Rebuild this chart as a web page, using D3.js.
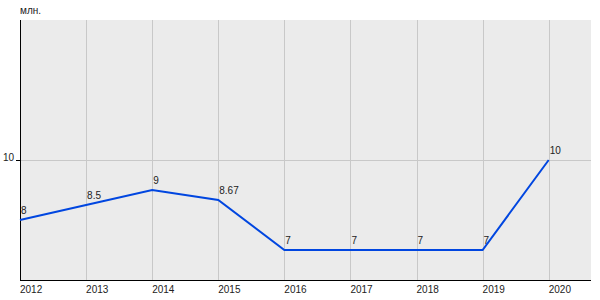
<!DOCTYPE html>
<html>
<head>
<meta charset="utf-8">
<script src="https://cdn.jsdelivr.net/npm/d3@7"></script>
<style>
  html, body { margin: 0; padding: 0; background: #fff; }
  svg { display: block; font-family: "Liberation Sans", Arial, sans-serif; }
  .lbl { font-size: 10px; fill: #222; }
</style>
</head>
<body>
<div id="chart"></div>
<script>
'use strict';

// data
const years  = [2012, 2013, 2014, 2015, 2016, 2017, 2018, 2019, 2020];
const values = [8, 8.5, 9, 8.67, 7, 7, 7, 7, 10];
const labels = ['8', '8.5', '9', '8.67', '7', '7', '7', '7', '10'];
const yTicks = [10];
const unit   = 'млн.';

const W = 600, H = 300;
const PLOT = { left: 20, right: 591, top: 20, bottom: 280 };

const svg = d3.select('#chart').append('svg')
  .attr('width', W).attr('height', H);

const x = d3.scaleLinear()
  .domain([2012, 2020.64])
  .range([PLOT.left, PLOT.right]);

const y = d3.scaleLinear()
  .domain([6, 14.667])
  .range([PLOT.bottom, PLOT.top]);

// background
svg.append('rect')
  .attr('x', PLOT.left).attr('y', PLOT.top)
  .attr('width', PLOT.right - PLOT.left)
  .attr('height', PLOT.bottom - PLOT.top)
  .attr('fill', '#ebebeb');

// vertical grid
svg.append('g').selectAll('line')
  .data(years.slice(1))
  .enter().append('line')
  .attr('x1', d => Math.round(x(d)) + 0.5).attr('x2', d => Math.round(x(d)) + 0.5)
  .attr('y1', PLOT.top).attr('y2', PLOT.bottom)
  .attr('stroke', '#c8c8c8');

// horizontal grid
svg.append('g').selectAll('line')
  .data(yTicks)
  .enter().append('line')
  .attr('x1', PLOT.left - 4).attr('x2', PLOT.right)
  .attr('y1', d => Math.round(y(d)) + 0.5).attr('y2', d => Math.round(y(d)) + 0.5)
  .attr('stroke', '#c8c8c8');

// tick mark at y ticks
svg.append('g').selectAll('line')
  .data(yTicks)
  .enter().append('line')
  .attr('x1', PLOT.left - 4).attr('x2', PLOT.left)
  .attr('y1', d => Math.round(y(d)) + 0.5).attr('y2', d => Math.round(y(d)) + 0.5)
  .attr('stroke', '#000');

svg.append('g').selectAll('text')
  .data(yTicks)
  .enter().append('text')
  .attr('class', 'lbl')
  .attr('x', PLOT.left - 6).attr('y', d => y(d) + 1)
  .attr('text-anchor', 'end')
  .text(d => d);

// axes lines
svg.append('line')
  .attr('x1', PLOT.left + 0.5).attr('x2', PLOT.left + 0.5)
  .attr('y1', PLOT.top).attr('y2', PLOT.bottom + 1)
  .attr('stroke', '#000');
svg.append('line')
  .attr('x1', PLOT.left).attr('x2', PLOT.right)
  .attr('y1', PLOT.bottom + 0.5).attr('y2', PLOT.bottom + 0.5)
  .attr('stroke', '#000');

// year labels
svg.append('g').selectAll('text')
  .data(years)
  .enter().append('text')
  .attr('class', 'lbl')
  .attr('x', d => x(d)).attr('y', PLOT.bottom + 13)
  .text(d => d);

// unit label
svg.append('text')
  .attr('class', 'lbl')
  .attr('x', PLOT.left).attr('y', 14)
  .text(unit);

// line
const pts = years.map((yr, i) => [x(yr), y(values[i])]);
svg.append('path')
  .datum(pts)
  .attr('d', d3.line())
  .attr('fill', 'none')
  .attr('stroke', '#0046e0')
  .attr('stroke-width', 2);

// value labels
svg.append('g').selectAll('text')
  .data(years)
  .enter().append('text')
  .attr('class', 'lbl')
  .attr('x', d => x(d) + 1)
  .attr('y', (d, i) => y(values[i]) - 6)
  .text((d, i) => labels[i]);
</script>
</body>
</html>
